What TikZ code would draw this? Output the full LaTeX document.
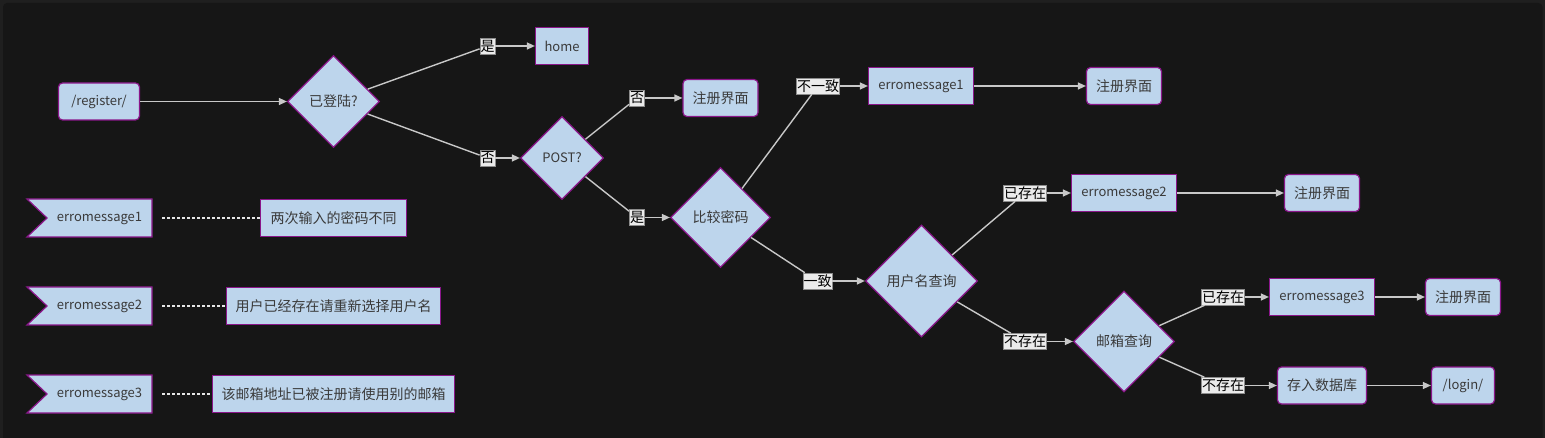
\documentclass[tikz,border=0pt]{standalone}
\usepackage{fontspec}
\newfontfamily\cn{Noto Sans CJK SC}
\usetikzlibrary{shapes.geometric,arrows.meta}
\definecolor{outerbg}{HTML}{1F1F1F}
\definecolor{innerbg}{HTML}{161616}
\definecolor{nodefill}{HTML}{BDD5EC}
\definecolor{nodeborder}{HTML}{8A168A}
\definecolor{txt}{HTML}{3A3A3A}
\definecolor{edgec}{HTML}{C8C8C8}
\definecolor{lblfill}{HTML}{EBEBEB}
\definecolor{lblborder}{HTML}{8C8C8C}
\definecolor{dotc}{HTML}{E6E6E6}
\tikzset{
  base/.style={draw=nodeborder, fill=nodefill, line width=1.2pt, text=txt,
    font=\cn\fontsize{14}{16}\selectfont, inner sep=0pt},
  lat/.style={font=\cn\fontsize{13}{16}\selectfont},
  rbox/.style={base, rounded corners=4pt, minimum height=37pt},
  sbox/.style={base, minimum height=37pt},
  dia/.style={base, diamond, aspect=1},
  flagtxt/.style={text=txt, font=\cn\fontsize{13}{16}\selectfont, inner sep=0pt,
    minimum width=105pt, minimum height=38pt},
  lbl/.style={draw=lblborder, fill=lblfill, line width=0.6pt, inner xsep=0.6pt,
    inner ysep=0pt, minimum height=16pt, text=black,
    font=\cn\fontsize{14}{16}\selectfont},
  edge/.style={draw=edgec, line width=1.4pt},
  arr/.style={edge, -{Triangle[length=8pt,width=7pt]}},
  dots/.style={draw=dotc, line width=2pt, dash pattern=on 3pt off 2pt},
  flagshape/.style={draw=nodeborder, fill=nodefill, line width=1.2pt},
}
\begin{document}
\begin{tikzpicture}[x=1pt,y=-1pt]
\useasboundingbox (0,0) rectangle (1545,438);
\fill[outerbg] (0,0) rectangle (1545,438);
\fill[innerbg, rounded corners=4pt] (3,3) rectangle (1542.5,445);

% main nodes
\node[rbox, lat, minimum width=81pt] (reg) at (99,101.5) {/register/};
\node[dia, minimum width=92pt, minimum height=92pt] (q1) at (333.5,101.5) {已登陆?};
\node[sbox, lat, minimum width=53pt] (home) at (562,46) {home};
\node[rbox, minimum width=75pt] (reg1) at (720.5,98) {注册界面};
\node[dia, lat, minimum width=83pt, minimum height=83pt] (post) at (562,158) {POST?};
\node[dia, minimum width=100pt, minimum height=100pt] (cmp) at (720.5,217.5) {比较密码};
\node[sbox, lat, minimum width=105pt] (err1) at (921,86) {erromessage1};
\node[rbox, minimum width=75pt] (reg2) at (1124,86) {注册界面};
\node[dia, minimum width=112pt, minimum height=112pt] (user) at (921.5,281) {用户名查询};
\node[sbox, lat, minimum width=105pt] (err2) at (1124,193) {erromessage2};
\node[rbox, minimum width=75pt] (reg3) at (1322,193) {注册界面};
\node[dia, minimum width=101pt, minimum height=101pt] (mail) at (1124,341.5) {邮箱查询};
\node[sbox, lat, minimum width=105pt] (err3) at (1322,297) {erromessage3};
\node[rbox, minimum width=75pt] (reg4) at (1463,297) {注册界面};
\node[rbox, minimum width=89pt] (db) at (1322,385.5) {存入数据库};
\node[rbox, lat, minimum width=63pt] (login) at (1463,385.5) {/login/};

% edge labels
\node[lbl] (l1) at (487.5,46) {是};
\node[lbl] (l2) at (487.5,158) {否};
\node[lbl] (l3) at (637,98) {否};
\node[lbl] (l4) at (637,217.5) {是};
\node[lbl] (l5) at (818,86) {不一致};
\node[lbl] (l6) at (817.5,281) {一致};
\node[lbl] (l7) at (1025,193) {已存在};
\node[lbl] (l8) at (1025,341.5) {不存在};
\node[lbl] (l9) at (1223,297) {已存在};
\node[lbl] (l10) at (1223,385.5) {不存在};

% edges
\draw[arr] (reg) -- (q1);
\draw[edge] (q1) -- (l1);  \draw[arr] (l1) -- (home);
\draw[edge] (q1) -- (l2);  \draw[arr] (l2) -- (post);
\draw[edge] (post) -- (l3); \draw[arr] (l3) -- (reg1);
\draw[edge] (post) -- (l4); \draw[arr] (l4) -- (cmp);
\draw[edge] (cmp) -- (l5); \draw[arr] (l5) -- (err1);
\draw[arr] (err1) -- (reg2);
\draw[edge] (cmp) -- (l6); \draw[arr] (l6) -- (user);
\draw[edge] (user) -- (l7); \draw[arr] (l7) -- (err2);
\draw[arr] (err2) -- (reg3);
\draw[edge] (user) -- (l8); \draw[arr] (l8) -- (mail);
\draw[edge] (mail) -- (l9); \draw[arr] (l9) -- (err3);
\draw[arr] (err3) -- (reg4);
\draw[edge] (mail) -- (l10); \draw[arr] (l10) -- (db);
\draw[arr] (db) -- (login);

% legend
\foreach \yy in {218,306,394}{
  \path[flagshape] (27,\yy-19) -- (152,\yy-19) -- (152,\yy+19) -- (27,\yy+19) -- (47,\yy) -- cycle;
}
\node[flagtxt] (f1) at (99.5,218) {erromessage1};
\node[flagtxt] (f2) at (99.5,306) {erromessage2};
\node[flagtxt] (f3) at (99.5,394) {erromessage3};
\node[sbox, minimum width=146pt] (d1) at (333.5,218) {两次输入的密码不同};
\node[sbox, minimum width=214pt] (d2) at (333.5,306) {用户已经存在请重新选择用户名};
\node[sbox, minimum width=242pt] (d3) at (333.5,394) {该邮箱地址已被注册请使用别的邮箱};
\draw[dots] ([xshift=10pt]f1.east) -- (d1.west);
\draw[dots] ([xshift=10pt]f2.east) -- (d2.west);
\draw[dots] ([xshift=10pt]f3.east) -- (d3.west);
\end{tikzpicture}
\end{document}
